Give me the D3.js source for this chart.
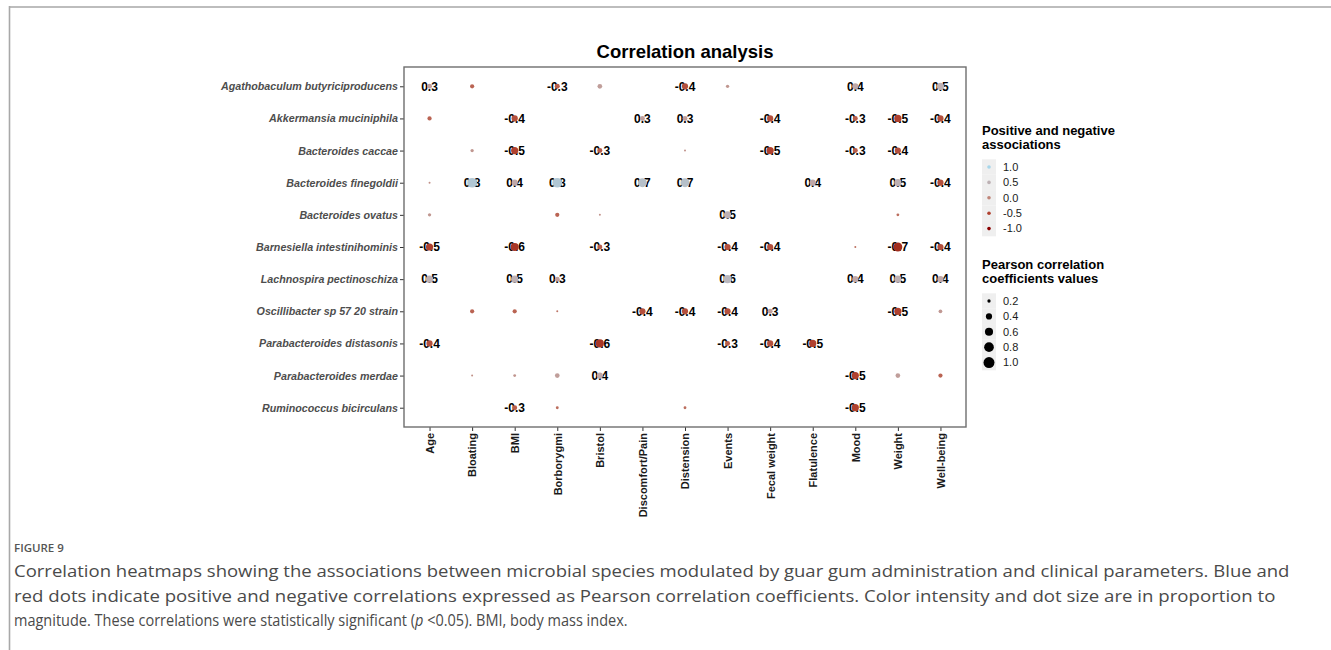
<!DOCTYPE html>
<html>
<head>
<meta charset="utf-8">
<script src="https://cdn.jsdelivr.net/npm/d3@7"></script>
<style>
  html, body { margin: 0; padding: 0; background: #fff; }
  svg { display: block; }
</style>
</head>
<body>
<svg id="chart" width="1331" height="650"></svg>
<script>
// Microbial species (rows) and clinical parameters (columns)
const species = [
  "Agathobaculum butyriciproducens",
  "Akkermansia muciniphila",
  "Bacteroides caccae",
  "Bacteroides finegoldii",
  "Bacteroides ovatus",
  "Barnesiella intestinihominis",
  "Lachnospira pectinoschiza",
  "Oscillibacter sp 57 20 strain",
  "Parabacteroides distasonis",
  "Parabacteroides merdae",
  "Ruminococcus bicirculans"
];
const params = ["Age", "Bloating", "BMI", "Borborygmi", "Bristol", "Discomfort/Pain",
  "Distension", "Events", "Fecal weight", "Flatulence", "Mood", "Weight", "Well-being"];

// Pearson r per species, one entry per parameter (null = no significant association)
const rAgathobaculum = [0.3, -0.25, null, -0.3, 0.28, null, -0.4, 0.2, null, null, 0.4, null, 0.5];
const rAkkermansia   = [-0.25, null, -0.4, null, null, 0.3, 0.3, null, -0.4, null, -0.3, -0.5, -0.4];
const rCaccae        = [null, 0.2, -0.5, null, -0.3, null, 0.15, null, -0.5, null, -0.3, -0.4, null];
const rFinegoldii    = [0.12, 0.8, 0.4, 0.8, null, 0.7, 0.7, null, null, 0.4, null, 0.5, -0.4];
const rOvatus        = [0.2, null, null, -0.25, 0.15, null, null, 0.5, null, null, null, -0.18, null];
const rBarnesiella   = [-0.5, null, -0.6, null, -0.3, null, null, -0.4, -0.4, null, -0.15, -0.7, -0.4];
const rLachnospira   = [0.5, null, 0.5, 0.3, null, null, null, 0.6, null, null, 0.4, 0.5, 0.4];
const rOscillibacter = [null, -0.25, -0.25, -0.12, null, -0.4, -0.4, -0.4, 0.3, null, null, -0.5, 0.22];
const rDistasonis    = [-0.4, null, null, null, -0.6, null, null, -0.3, -0.4, -0.5, null, null, null];
const rMerdae        = [null, 0.12, 0.18, 0.28, 0.4, null, null, null, null, null, -0.5, 0.28, -0.25];
const rRuminococcus  = [null, null, -0.3, -0.18, null, null, -0.18, null, null, null, -0.5, null, null];
const rRows = [rAgathobaculum, rAkkermansia, rCaccae, rFinegoldii, rOvatus, rBarnesiella,
  rLachnospira, rOscillibacter, rDistasonis, rMerdae, rRuminococcus];

// Legend breaks
const colorBreaks = [1.0, 0.5, 0.0, -0.5, -1.0];
const sizeBreaks = [0.2, 0.4, 0.6, 0.8, 1.0];

const captionLines = [
  "Correlation heatmaps showing the associations between microbial species modulated by guar gum administration and clinical parameters. Blue and",
  "red dots indicate positive and negative correlations expressed as Pearson correlation coefficients. Color intensity and dot size are in proportion to"
];

const cells = [];
species.forEach((s, i) => rRows[i].forEach((v, j) => {
  if (v !== null) cells.push({ species: s, param: params[j], r: v });
}));

const svg = d3.select("#chart");
const W = 1331, H = 650;
svg.append("rect").attr("width", W).attr("height", H).attr("fill", "#fff");

// page frame
svg.append("line").attr("x1", 9).attr("x2", W).attr("y1", 7).attr("y2", 7)
  .attr("stroke", "#bdbdbd").attr("stroke-width", 2);
svg.append("line").attr("x1", 9.5).attr("x2", 9.5).attr("y1", 6).attr("y2", H)
  .attr("stroke", "#a8a8a8").attr("stroke-width", 1.6);

const panel = { left: 404, right: 966, top: 67, bottom: 427 };

const x = d3.scalePoint().domain(params).range([panel.left, panel.right]).padding(0.6);
const y = d3.scalePoint().domain(species).range([panel.top, panel.bottom]).padding(0.6);

const color = d3.scaleLinear()
  .domain([-1, -0.5, 0, 0.5, 1])
  .range(["#8b0000", "#b0412f", "#c08579", "#bdb1b4", "#a6d6ea"])
  .interpolate(d3.interpolateLab);
// area-linear size mapping on |r|
const area = d3.scaleLinear().domain([0.15, 1]).range([1, 30.25]).clamp(true);
const dotR = v => Math.sqrt(area(Math.abs(v)));

const fmt = d3.formatLocale({ decimal: ".", thousands: ",", grouping: [3], currency: ["", ""], minus: "-" }).format(".1f");

const font = "'Liberation Sans', Arial, sans-serif";

// title
svg.append("text").attr("x", (panel.left + panel.right) / 2).attr("y", 58)
  .attr("text-anchor", "middle").attr("font-family", font).attr("font-weight", "bold")
  .attr("font-size", 18.5).attr("fill", "#000").text("Correlation analysis");

// axes
const xAxis = svg.append("g").attr("transform", `translate(0,${panel.bottom})`)
  .call(d3.axisBottom(x).tickSize(4).tickSizeOuter(0));
xAxis.select(".domain").remove();
xAxis.selectAll(".tick line").attr("stroke", "#333");
xAxis.selectAll(".tick text")
  .attr("font-family", font).attr("font-weight", "bold").attr("font-size", 11).attr("fill", "#1a1a1a")
  .attr("transform", "rotate(-90)").attr("text-anchor", "end")
  .attr("x", -6).attr("y", 0).attr("dy", "0.35em");

const yAxis = svg.append("g").attr("transform", `translate(${panel.left},0)`)
  .call(d3.axisLeft(y).tickSize(4).tickSizeOuter(0));
yAxis.select(".domain").remove();
yAxis.selectAll(".tick line").attr("stroke", "#333");
yAxis.selectAll(".tick text")
  .attr("font-family", font).attr("font-weight", "bold").attr("font-style", "italic")
  .attr("font-size", 10.7).attr("fill", "#4d4d4d").attr("x", -6);

// panel border
svg.append("rect").attr("x", panel.left).attr("y", panel.top)
  .attr("width", panel.right - panel.left).attr("height", panel.bottom - panel.top)
  .attr("fill", "none").attr("stroke", "#6e6e6e").attr("stroke-width", 1.4);

// value labels (|r| >= 0.3)
svg.append("g").selectAll("text").data(cells.filter(d => Math.abs(d.r) >= 0.3)).join("text")
  .attr("x", d => x(d.param)).attr("y", d => y(d.species)).attr("dy", "0.36em")
  .attr("text-anchor", "middle").attr("font-family", font).attr("font-weight", "bold")
  .attr("font-size", 12).attr("fill", "#000").text(d => fmt(d.r));

// dots
svg.append("g").selectAll("circle").data(cells).join("circle")
  .attr("cx", d => x(d.param)).attr("cy", d => y(d.species))
  .attr("r", d => dotR(d.r)).attr("fill", d => color(d.r));

// legends
const lx = 982;
const lg1 = svg.append("g");
lg1.append("text").attr("x", lx).attr("y", 135).attr("font-family", font).attr("font-weight", "bold")
  .attr("font-size", 13).text("Positive and negative");
lg1.append("text").attr("x", lx).attr("y", 149).attr("font-family", font).attr("font-weight", "bold")
  .attr("font-size", 13).text("associations");
const k1 = lg1.selectAll("g.key").data(colorBreaks).join("g").attr("class", "key")
  .attr("transform", (d, i) => `translate(0,${167 + i * 15.4})`);
k1.append("rect").attr("x", lx).attr("y", -7.7).attr("width", 14).attr("height", 15.4).attr("fill", "#efefef");
k1.append("circle").attr("cx", lx + 7).attr("cy", 0).attr("r", 1.8).attr("fill", d => color(d));
k1.append("text").attr("x", lx + 21).attr("y", 0).attr("dy", "0.35em").attr("font-family", font)
  .attr("font-size", 11).attr("fill", "#1a1a1a").text(d => fmt(d));

const lg2 = svg.append("g");
lg2.append("text").attr("x", lx).attr("y", 269).attr("font-family", font).attr("font-weight", "bold")
  .attr("font-size", 13).text("Pearson correlation");
lg2.append("text").attr("x", lx).attr("y", 283).attr("font-family", font).attr("font-weight", "bold")
  .attr("font-size", 13).text("coefficients values");
const k2 = lg2.selectAll("g.key").data(sizeBreaks).join("g").attr("class", "key")
  .attr("transform", (d, i) => `translate(0,${301 + i * 15.4})`);
k2.append("rect").attr("x", lx).attr("y", -7.7).attr("width", 14).attr("height", 15.4).attr("fill", "#efefef");
k2.append("circle").attr("cx", lx + 7).attr("cy", 0).attr("r", d => dotR(d)).attr("fill", "#000");
k2.append("text").attr("x", lx + 21).attr("y", 0).attr("dy", "0.35em").attr("font-family", font)
  .attr("font-size", 11).attr("fill", "#1a1a1a").text(d => fmt(d));

// caption: each line is fitted to its printed width by a horizontal scale
const capFont = "'Open Sans', 'Noto Sans', sans-serif";
svg.append("text").attr("x", 14).attr("y", 552).attr("font-family", capFont)
  .attr("font-size", 11.5).attr("fill", "#555").attr("font-weight", 600).text("FIGURE 9");
const capWidths = [1276, 1262, 614];
const capNodes = captionLines.map(t => {
  const n = svg.append("text");
  n.text(t);
  return n;
});
const l3 = svg.append("text");
l3.append("tspan").text("magnitude. These correlations were statistically significant (");
l3.append("tspan").attr("font-style", "italic").text("p");
l3.append("tspan").text(" <0.05). BMI, body mass index.");
capNodes.push(l3);
capNodes.forEach((n, i) => {
  n.attr("font-family", capFont).attr("font-size", 17).attr("fill", "#4a4a4a");
  const natural = n.node().getComputedTextLength();
  const sx = capWidths[i] / natural;
  n.attr("transform", `translate(14,${577 + i * 24.5}) scale(${sx},1)`);
});
</script>
</body>
</html>
